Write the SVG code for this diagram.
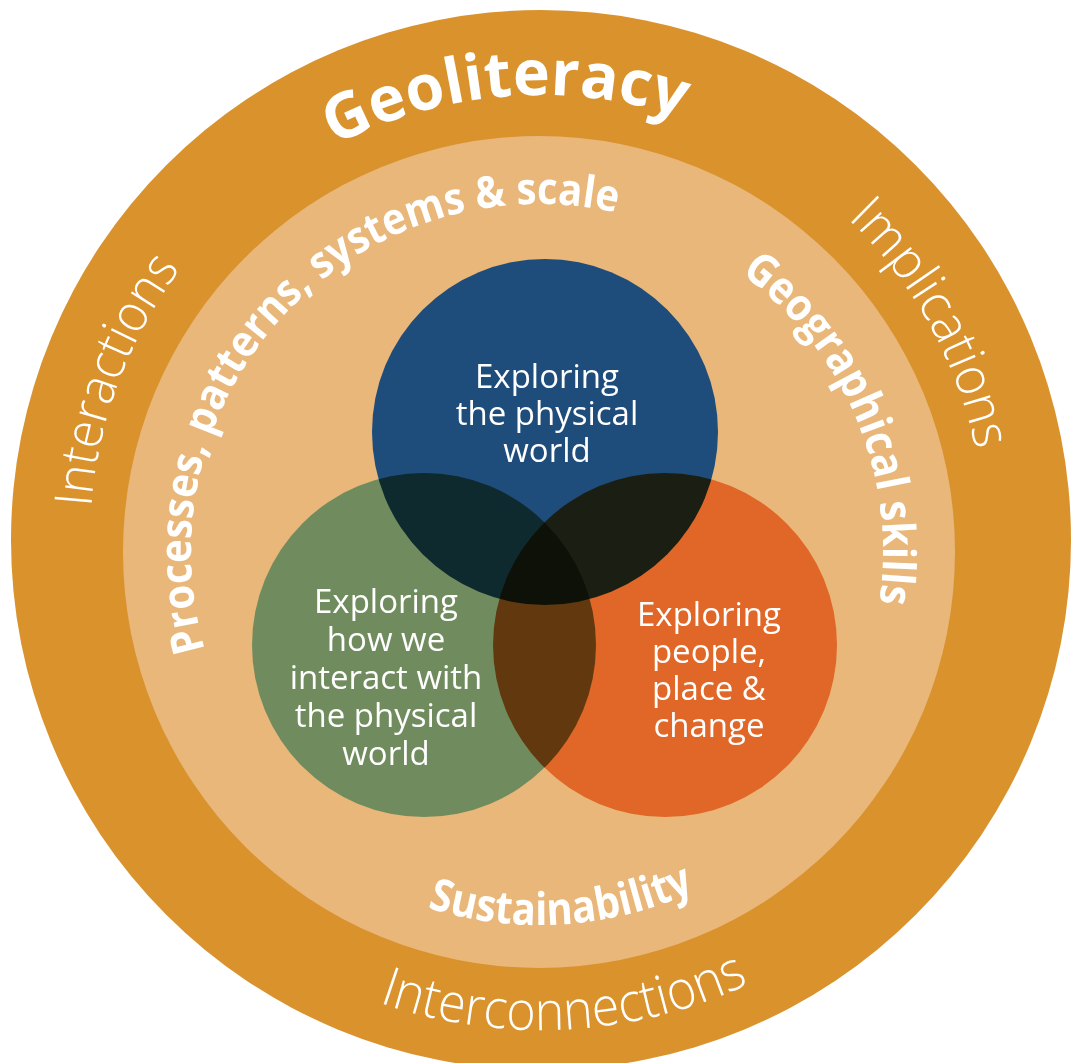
<svg xmlns="http://www.w3.org/2000/svg" xmlns:xlink="http://www.w3.org/1999/xlink" width="1074" height="1063" viewBox="0 0 1074 1063">
<style>
.ring-outer{fill:#D9922C}
.ring-inner{fill:#E8B779}
.venn{mix-blend-mode:multiply}
.lbl{font-family:"Open Sans","Noto Sans","Liberation Sans",sans-serif;fill:#fff;font-size:33px;text-anchor:middle}
.arc-bold{font-family:"Open Sans","Noto Sans","Liberation Sans",sans-serif;fill:#fff;font-weight:700}
.arc-light{font-family:"Open Sans","Noto Sans","Liberation Sans",sans-serif;fill:#fff;font-weight:300}
</style>
<defs>
<path id="pGeo" d="M541,985 A445,445 0 0 1 96,540 A445,445 0 0 1 541,95 A445,445 0 0 1 986,540 A445,445 0 0 1 541,985"/>
<path id="pInteract" d="M541,991 A451,451 0 0 1 90,540 A451,451 0 0 1 541,89 A451,451 0 0 1 992,540 A451,451 0 0 1 541,991"/>
<path id="pImpl" d="M541,984 A444,444 0 0 1 97,540 A444,444 0 0 1 541,96 A444,444 0 0 1 985,540 A444,444 0 0 1 541,984"/>
<path id="pInterconn" d="M541,50 A490,490 0 0 0 51,540 A490,490 0 0 0 541,1030 A490,490 0 0 0 1031,540 A490,490 0 0 0 541,50"/>
<path id="pProc" d="M539,900 A348,348 0 0 1 191,552 A348,348 0 0 1 539,204 A348,348 0 0 1 887,552 A348,348 0 0 1 539,900"/>
<path id="pGeog" d="M539,896 A344,344 0 0 1 195,552 A344,344 0 0 1 539,208 A344,344 0 0 1 883,552 A344,344 0 0 1 539,896"/>
<path id="pSust" d="M539,179 A373,373 0 0 0 166,552 A373,373 0 0 0 539,925 A373,373 0 0 0 912,552 A373,373 0 0 0 539,179"/>
</defs>

<g id="outer-ring">
<circle class="ring-outer" cx="541" cy="540" r="530"/>
<text class="arc-bold" font-size="63"><textPath xlink:href="#pGeo" href="#pGeo" startOffset="1183" textLength="358" lengthAdjust="spacingAndGlyphs">Geoliteracy</textPath></text>
<text class="arc-light" font-size="52"><textPath xlink:href="#pInteract" href="#pInteract" startOffset="741" textLength="258" lengthAdjust="spacingAndGlyphs">Interactions</textPath></text>
<text class="arc-light" font-size="52"><textPath xlink:href="#pImpl" href="#pImpl" startOffset="1733" textLength="268" lengthAdjust="spacingAndGlyphs">Implications</textPath></text>
<text class="arc-light" font-size="54"><textPath xlink:href="#pInterconn" href="#pInterconn" startOffset="1374" textLength="380" lengthAdjust="spacingAndGlyphs">Interconnections</textPath></text>
</g>

<g id="inner-ring">
<circle class="ring-inner" cx="539" cy="552" r="416"/>
<text class="arc-bold" font-size="44"><textPath xlink:href="#pProc" href="#pProc" startOffset="447" textLength="724" lengthAdjust="spacingAndGlyphs">Processes, patterns, systems &amp; scale</textPath></text>
<text class="arc-bold" font-size="45"><textPath xlink:href="#pGeog" href="#pGeog" startOffset="1296" textLength="376" lengthAdjust="spacingAndGlyphs">Geographical skills</textPath></text>
<text class="arc-bold" font-size="45"><textPath xlink:href="#pSust" href="#pSust" startOffset="1058" textLength="274" lengthAdjust="spacingAndGlyphs">Sustainability</textPath></text>
</g>

<g id="venn" style="isolation:isolate">
<g id="physical">
<circle class="venn" cx="545" cy="432" r="173" fill="#1E4C7B"/>
</g>
<g id="interact">
<circle class="venn" cx="424" cy="645" r="172" fill="#708C5E"/>
</g>
<g id="people">
<circle class="venn" cx="665" cy="645" r="172" fill="#E06727"/>
</g>
</g>

<g id="labels">
<text class="lbl" x="547" y="388">Exploring</text>
<text class="lbl" x="547" y="425">the physical</text>
<text class="lbl" x="547" y="462">world</text>

<text class="lbl" x="386" y="613">Exploring</text>
<text class="lbl" x="386" y="651">how we</text>
<text class="lbl" x="386" y="689">interact with</text>
<text class="lbl" x="386" y="727">the physical</text>
<text class="lbl" x="386" y="765">world</text>

<text class="lbl" x="709" y="626">Exploring</text>
<text class="lbl" x="709" y="663">people,</text>
<text class="lbl" x="709" y="700">place &amp;</text>
<text class="lbl" x="709" y="737">change</text>
</g>
</svg>
